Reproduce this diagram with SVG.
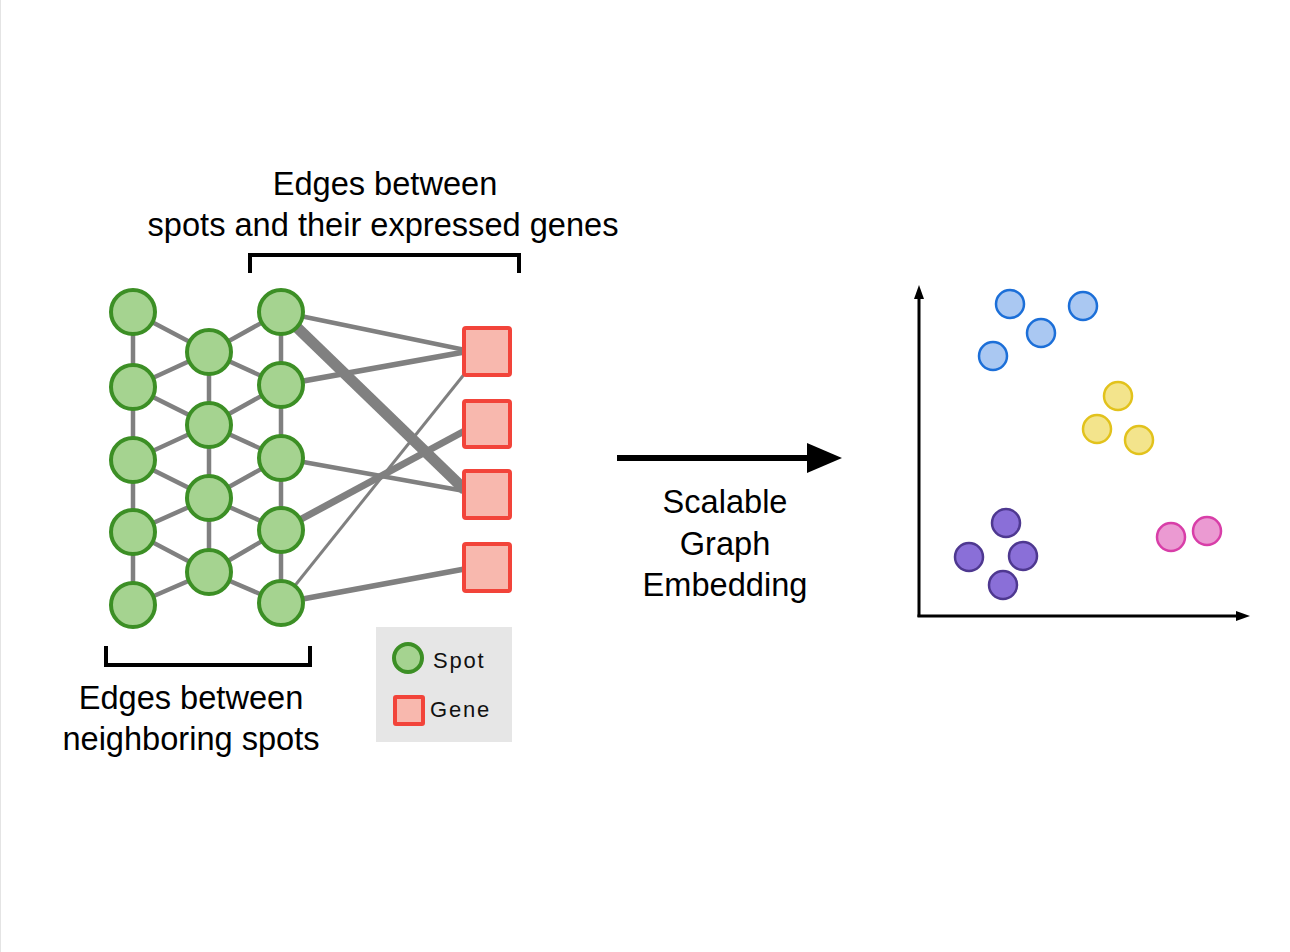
<svg xmlns="http://www.w3.org/2000/svg" width="1290" height="952" viewBox="0 0 1290 952">
<style>
.t{font-family:"Liberation Sans",Arial,sans-serif;fill:#000;text-anchor:middle;font-size:32.6px}
.lg{font-family:"Liberation Sans",Arial,sans-serif;fill:#111;font-size:22px;letter-spacing:1.8px}
.spot{fill:#a5d390;stroke:#3c8f25;stroke-width:4}
.gene{fill:#f8b8ae;stroke:#f2443a;stroke-width:4}
.e{stroke:#808080;stroke-linecap:butt;fill:none}
.br{stroke:#000;stroke-width:4;fill:none}
.blue{fill:#aac8f2;stroke:#1c6fd8;stroke-width:2.5}
.yel{fill:#f3e48c;stroke:#e2c21c;stroke-width:2.5}
.pur{fill:#8a6fd8;stroke:#4e3890;stroke-width:2.5}
.pink{fill:#eb9ad2;stroke:#d83ea8;stroke-width:2.5}
</style>
<rect x="0" y="0" width="1290" height="952" fill="#fff"/>
<line x1="0.5" y1="0" x2="0.5" y2="952" stroke="#e4e4e4" stroke-width="1"/>

<g id="connectors">
  <g class="e" stroke-width="4.5">
    <line x1="133" y1="312" x2="133" y2="605"/>
    <line x1="209" y1="352" x2="209" y2="572"/>
    <line x1="281" y1="312" x2="281" y2="603"/>
    <polyline points="133,312 209,352 133,387 209,425 133,460 209,498 133,532 209,572 133,605"/>
    <polyline points="281,312 209,352 281,385 209,425 281,458 209,498 281,530 209,572 281,603"/>
  </g>
  <line class="e" x1="281" y1="312" x2="470" y2="351" stroke-width="4.5"/>
  <line class="e" x1="281" y1="312" x2="465" y2="490" stroke-width="11"/>
  <line class="e" x1="281" y1="385" x2="470" y2="351" stroke-width="5.5"/>
  <line class="e" x1="281" y1="458" x2="470" y2="492" stroke-width="4.5"/>
  <line class="e" x1="281" y1="530" x2="470" y2="428" stroke-width="7"/>
  <line class="e" x1="281" y1="603" x2="466" y2="372" stroke-width="3"/>
  <line class="e" x1="281" y1="603" x2="470" y2="568" stroke-width="5.5"/>
</g>

<g id="spots">
  <circle id="s-l1" class="spot" cx="133" cy="312" r="22"/>
  <circle id="s-l2" class="spot" cx="133" cy="387" r="22"/>
  <circle id="s-l3" class="spot" cx="133" cy="460" r="22"/>
  <circle id="s-l4" class="spot" cx="133" cy="532" r="22"/>
  <circle id="s-l5" class="spot" cx="133" cy="605" r="22"/>
  <circle id="s-m1" class="spot" cx="209" cy="352" r="22"/>
  <circle id="s-m2" class="spot" cx="209" cy="425" r="22"/>
  <circle id="s-m3" class="spot" cx="209" cy="498" r="22"/>
  <circle id="s-m4" class="spot" cx="209" cy="572" r="22"/>
  <circle id="s-r1" class="spot" cx="281" cy="312" r="22"/>
  <circle id="s-r2" class="spot" cx="281" cy="385" r="22"/>
  <circle id="s-r3" class="spot" cx="281" cy="458" r="22"/>
  <circle id="s-r4" class="spot" cx="281" cy="530" r="22"/>
  <circle id="s-r5" class="spot" cx="281" cy="603" r="22"/>
</g>

<g id="genes">
  <rect id="g1" class="gene" x="464" y="328" width="46" height="47" rx="2"/>
  <rect id="g2" class="gene" x="464" y="401" width="46" height="46" rx="2"/>
  <rect id="g3" class="gene" x="464" y="471" width="46" height="47" rx="2"/>
  <rect id="g4" class="gene" x="464" y="544" width="46" height="47" rx="2"/>
</g>

<g id="top-label">
  <text class="t" x="385" y="195">Edges between</text>
  <text class="t" x="383" y="236">spots and their expressed genes</text>
  <polyline class="br" points="250,273 250,255 519,255 519,273"/>
</g>

<g id="bottom-label">
  <polyline class="br" points="106,646 106,665 310,665 310,646"/>
  <text class="t" x="191" y="709">Edges between</text>
  <text class="t" x="191" y="750">neighboring spots</text>
</g>

<g id="legend">
  <rect x="376" y="627" width="136" height="115" fill="#e6e6e6"/>
  <circle class="spot" cx="408" cy="658" r="14" stroke-width="3"/>
  <text class="lg" x="433" y="668">Spot</text>
  <rect class="gene" x="395" y="697" width="28" height="27" rx="1" stroke-width="3"/>
  <text class="lg" x="430" y="717">Gene</text>
</g>

<g id="arrow">
  <line x1="617" y1="458" x2="810" y2="458" stroke="#000" stroke-width="6"/>
  <polygon points="807,443 842,458 807,473" fill="#000"/>
  <text class="t" x="725" y="513">Scalable</text>
  <text class="t" x="725" y="555">Graph</text>
  <text class="t" x="725" y="596">Embedding</text>
</g>

<g id="axes">
  <line x1="919" y1="296" x2="919" y2="617" stroke="#000" stroke-width="3"/>
  <line x1="917.5" y1="616" x2="1240" y2="616" stroke="#000" stroke-width="3"/>
  <polygon points="919,285 914,299 924,299" fill="#000"/>
  <polygon points="1250,616 1236,611 1236,621" fill="#000"/>
</g>

<g id="embedding-points">
  <circle class="blue" cx="1010" cy="304" r="14"/>
  <circle class="blue" cx="1083" cy="306" r="14"/>
  <circle class="blue" cx="1041" cy="333" r="14"/>
  <circle class="blue" cx="993" cy="356" r="14"/>
  <circle class="yel" cx="1118" cy="396" r="14"/>
  <circle class="yel" cx="1097" cy="429" r="14"/>
  <circle class="yel" cx="1139" cy="440" r="14"/>
  <circle class="pur" cx="1006" cy="523" r="14"/>
  <circle class="pur" cx="969" cy="557" r="14"/>
  <circle class="pur" cx="1023" cy="556" r="14"/>
  <circle class="pur" cx="1003" cy="585" r="14"/>
  <circle class="pink" cx="1171" cy="537" r="14"/>
  <circle class="pink" cx="1207" cy="531" r="14"/>
</g>
</svg>
